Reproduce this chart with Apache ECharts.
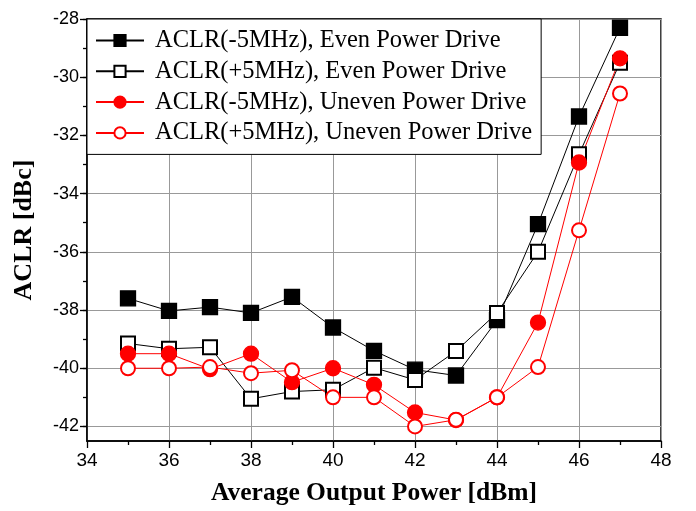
<!DOCTYPE html>
<html>
<head>
<meta charset="utf-8">
<script src="https://cdn.jsdelivr.net/npm/echarts@6/dist/echarts.min.js"></script>
<style>html,body{margin:0;padding:0;background:#fff}#c{width:696px;height:511px}</style>
</head>
<body>
<div id="c"></div>
<script>
const xValues = [35, 36, 37, 38, 39, 40, 41, 42, 43, 44, 45, 46, 47];
const evenMinus5 = [-37.6, -38.03, -37.9, -38.1, -37.55, -38.6, -39.4, -40.05, -40.25, -38.35, -35.05, -31.35, -28.3];
const evenPlus5 = [-39.15, -39.33, -39.28, -41.05, -40.8, -40.74, -39.98, -40.4, -39.41, -38.1, -36.0, -32.65, -29.5];
const unevenMinus5 = [-39.5, -39.5, -40.03, -39.5, -40.48, -40.0, -40.57, -41.52, -41.78, -41.0, -38.43, -32.93, -29.35];
const unevenPlus5 = [-40.0, -40.0, -39.96, -40.17, -40.07, -41.0, -41.0, -42.0, -41.77, -41.0, -39.96, -35.26, -30.56];
const seriesNames = ['ACLR(-5MHz), Even Power Drive', 'ACLR(+5MHz), Even Power Drive', 'ACLR(-5MHz), Uneven Power Drive', 'ACLR(+5MHz), Uneven Power Drive'];
const yMajorTicks = [-42, -40, -38, -36, -34, -32, -30, -28];
const yMinorTicks = [-42, -41, -40, -39, -38, -37, -36, -35, -34, -33, -32, -31, -30, -29, -28];

const pairs = arr => xValues.map((x, i) => [x, arr[i]]);

const chart = echarts.init(document.getElementById('c'), null, {renderer: 'canvas'});
const serifFont = '"Liberation Serif", "Times New Roman", serif';
const sansFont = '"Liberation Sans", Arial, sans-serif';

function mk(name, data, symbol, color, size) {
  return {
    name: name, type: 'line', data: pairs(data),
    symbol: symbol, symbolSize: size,
    lineStyle: {color: color, width: 1},
    itemStyle: {color: color, borderColor: color, borderWidth: 1.3},
    emphasis: {disabled: true},
    animation: false
  };
}

chart.setOption({
  animation: false,
  backgroundColor: '#fff',
  grid: {left: 87, right: 35, top: 19, bottom: 70, show: true, borderColor: '#000', borderWidth: 1.5, backgroundColor: 'transparent'},
  legend: {
    left: 87, top: 19,
    orient: 'vertical',
    backgroundColor: '#fff',
    borderColor: '#000', borderWidth: 1,
    borderRadius: 0,
    padding: [9, 9, 9, 8],
    itemWidth: 48, itemHeight: 14, itemGap: 5.8,
    textStyle: {fontFamily: serifFont, fontSize: 24.5, color: '#000', padding: [0, 0, 0, 6]},
    data: seriesNames
  },
  xAxis: {
    type: 'value', min: 34, max: 48, interval: 2,
    name: 'Average Output Power [dBm]', nameLocation: 'middle', nameGap: 39,
    nameTextStyle: {fontFamily: serifFont, fontSize: 25.5, fontWeight: 'bold', color: '#000'},
    axisLine: {show: true, onZero: false, lineStyle: {color: '#000', width: 1.5}},
    axisTick: {show: true, inside: false, length: 7, lineStyle: {color: '#000', width: 1.3}},
    minorTick: {show: true, splitNumber: 2, length: 4, lineStyle: {color: '#000', width: 1.3}},
    axisLabel: {fontFamily: sansFont, fontSize: 19, color: '#000', margin: 10},
    splitLine: {show: true, lineStyle: {color: '#999', width: 1}},
    minorSplitLine: {show: false}
  },
  yAxis: [{
    type: 'value', min: -42.5, max: -28,
    name: 'ACLR [dBc]', nameLocation: 'middle', nameGap: 50,
    nameTextStyle: {fontFamily: serifFont, fontSize: 26, fontWeight: 'bold', color: '#000'},
    axisLine: {show: true, onZero: false, lineStyle: {color: '#000', width: 1.5}},
    axisTick: {show: true, inside: false, length: 7, customValues: yMajorTicks, lineStyle: {color: '#000', width: 1.3}},
    axisLabel: {fontFamily: sansFont, fontSize: 18, color: '#000', margin: 8, customValues: yMajorTicks},
    splitLine: {show: true, lineStyle: {color: '#999', width: 1}}
  }, {
    type: 'value', min: -42.5, max: -28, position: 'left',
    axisLine: {show: false},
    axisTick: {show: true, inside: false, length: 4, customValues: yMinorTicks, lineStyle: {color: '#000', width: 1.3}},
    axisLabel: {show: false},
    splitLine: {show: false}
  }],
  series: [
    mk(seriesNames[0], evenMinus5, 'rect', '#000', 15),
    mk(seriesNames[1], evenPlus5, 'emptyRect', '#000', 14),
    mk(seriesNames[2], unevenMinus5, 'circle', '#ff0000', 15),
    mk(seriesNames[3], unevenPlus5, 'emptyCircle', '#ff0000', 14)
  ]
});
</script>
</body>
</html>
